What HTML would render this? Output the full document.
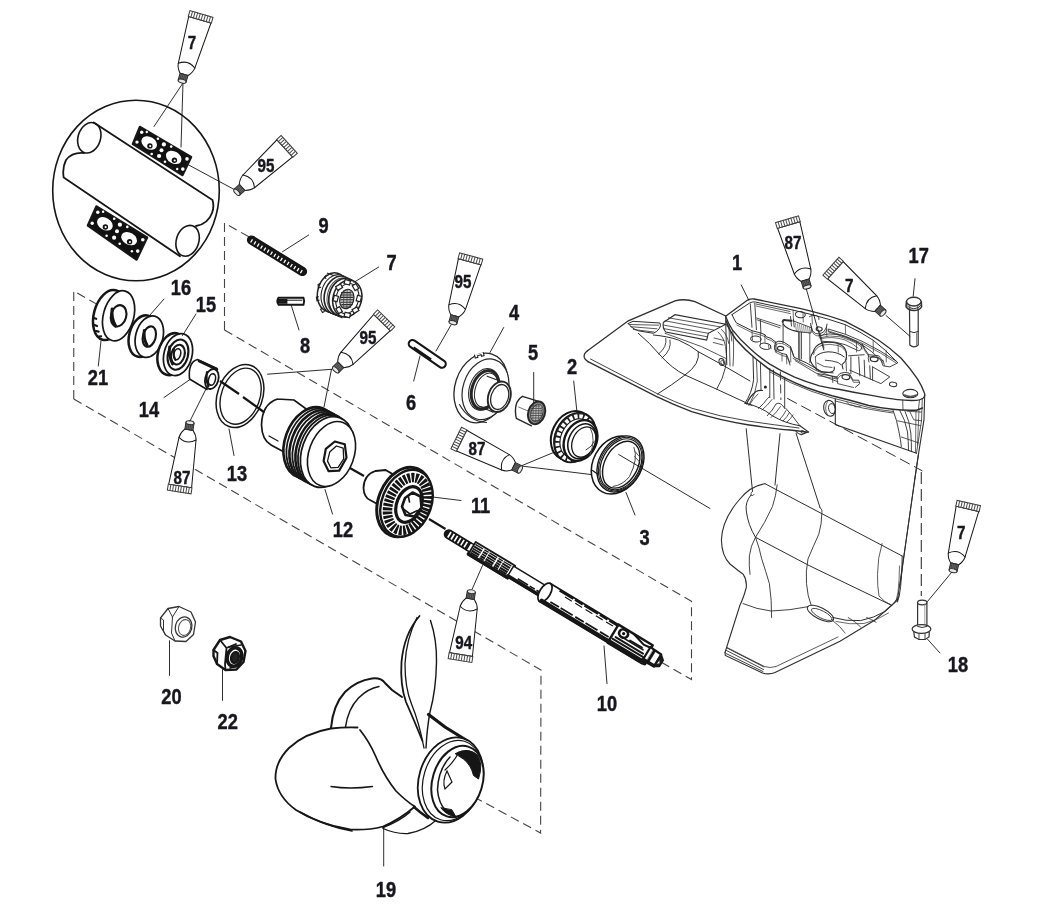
<!DOCTYPE html>
<html><head><meta charset="utf-8"><title>Gear housing exploded view</title>
<style>
html,body{margin:0;padding:0;background:#fff;}
body{width:1045px;height:908px;overflow:hidden;font-family:"Liberation Sans",sans-serif;}
svg{display:block;will-change:transform;}
svg text{font-family:"Liberation Sans",sans-serif;}
</style></head><body>
<svg width="1045" height="908" viewBox="0 0 1045 908" stroke-linecap="round">
<rect width="1045" height="908" fill="#fff"/>
<path d="M587.5 350.8 L628.3 320.8 L675 300.8 Q685 298.3 695 301.7 L725.8 316" stroke="#2e2e2e" stroke-width="1.3" fill="none" />
<path d="M587.5 350.8 Q583.3 354 584.3 357.5 Q585.2 360.3 588 361.7" stroke="#2e2e2e" stroke-width="1.3" fill="none" />
<path d="M588 361.7 L656.7 396.7 Q675 405.5 691.7 411.7 Q720 420.5 749 425 Q775 428.8 790 430 L808.3 432.2" stroke="#2e2e2e" stroke-width="1.3" fill="none" />
<path d="M590.5 359 L657.5 393.8 Q675 402.2 691.7 408.2 Q720 416.8 749 421.2 Q775 425 799 428" stroke="#2e2e2e" stroke-width="0.9" fill="none" />
<path d="M799.9 425.8 L808.3 431.9 L801.4 434.6 Q798 434 796 431.5" stroke="#2e2e2e" stroke-width="1.1" fill="none" />
<ellipse cx="803" cy="432" rx="2.4" ry="1.2" stroke="#2e2e2e" stroke-width="0.8" fill="none" transform="rotate(15 803 432)"/>
<path d="M628.3 323.5 L633 321.3 L660 323 Q661.3 326 659.2 328.7 Q657 332 653.3 333.3 L638.3 330.8 Q631 328 628.3 323.5 Z" stroke="#2e2e2e" stroke-width="1.0" fill="none" />
<path d="M629.2 324.5 L658.5 325.2 M630.8 326.7 L657 328.8 M633.3 329.5 L654 332" stroke="#2e2e2e" stroke-width="0.8" fill="none" />
<path d="M663.3 322.5 L675 314.7 L725.8 324.2 L708.3 333.3 L706.7 340 L665.8 332 Q662.3 328 663.3 322.5 Z" stroke="#2e2e2e" stroke-width="1.1" fill="none" />
<path d="M668.3 317.8 L720 326.9 M665 320.8 L713.5 330 M663.3 325 L708.3 333.3 M664.2 328.7 L707.5 336.8" stroke="#2e2e2e" stroke-width="0.8" fill="none" />
<path d="M713.3 342.5 L723 345 M718 332 Q724 337.5 725.3 345.5 M721.5 329.5 Q727.5 335 728.8 343.5 M725.8 324.2 Q731.5 330 731.8 341 M714 338 L724 340.5" stroke="#2e2e2e" stroke-width="0.8" fill="none" />
<path d="M638.3 333.3 Q650 343 660 355 Q672 368.5 685 375 L716.7 389.2 L752 405.5" stroke="#2e2e2e" stroke-width="1.0" fill="none" />
<path d="M665.8 338.3 Q667.5 347 658.5 354 M670 340 Q672 350 662 358" stroke="#2e2e2e" stroke-width="0.9" fill="none" />
<path d="M698.3 351.7 Q700.5 364 685 375 Q672 385 657.5 394" stroke="#2e2e2e" stroke-width="1.0" fill="none" />
<path d="M725.8 346.7 Q729.5 368 716.7 389.2" stroke="#2e2e2e" stroke-width="0.9" fill="none" />
<path d="M653.3 335 Q668 336.3 678.3 340 Q690 345 698.3 351.7 L721.7 364.5 L750 381" stroke="#2e2e2e" stroke-width="1.0" fill="none" />
<path d="M665 333.3 L701.7 346.7 L726 358.5" stroke="#2e2e2e" stroke-width="0.8" fill="none" />
<ellipse cx="721.7" cy="362" rx="2.6" ry="3.6" stroke="#2e2e2e" stroke-width="1.0" fill="none" transform="rotate(-15 721.7 362)"/>
<ellipse cx="722.3" cy="362.3" rx="1.4" ry="2.2" stroke="#2e2e2e" stroke-width="0.7" fill="none" transform="rotate(-15 722.3 362.3)"/>
<path d="M725.6 316.2 L726.8 364.7" stroke="#2e2e2e" stroke-width="1.0" fill="none" />
<path d="M729 322 L730 366 M732.5 328 Q734.5 345 733 366" stroke="#2e2e2e" stroke-width="0.8" fill="none" />
<path d="M753 357.3 L753.6 379.7 Q752 393 744.9 403.3" stroke="#2e2e2e" stroke-width="1.0" fill="none" />
<path d="M756.5 360.5 L757.3 381 Q756 394 749 405" stroke="#2e2e2e" stroke-width="0.8" fill="none" />
<path d="M760.4 362.2 L761 389.6 M769.8 368.5 L769.8 397.1 M773.5 370 L774 399" stroke="#2e2e2e" stroke-width="0.9" fill="none" />
<path d="M780.3 371.5 L780.9 400" stroke="#2e2e2e" stroke-width="0.9" fill="none" stroke-dasharray="9 4" stroke-linecap="butt"/>
<path d="M784.7 377.2 L784.7 408.3" stroke="#2e2e2e" stroke-width="0.9" fill="none" />
<path d="M746.5 404 Q750 396 756 391.5 Q759 390 762.5 390.5" stroke="#2e2e2e" stroke-width="1.2" fill="none" />
<path d="M749 405.5 Q753 398.5 758 394" stroke="#2e2e2e" stroke-width="0.8" fill="none" />
<path d="M758.5 408.5 Q764 403.5 767.5 398.5 Q769 396.5 769.8 397.1" stroke="#2e2e2e" stroke-width="0.9" fill="none" />
<path d="M762 410 Q768 405 772 399.5" stroke="#2e2e2e" stroke-width="0.8" fill="none" />
<path d="M767.3 415.7 Q773 410 776 404 Q780 401 784.7 408.3" stroke="#2e2e2e" stroke-width="0.9" fill="none" />
<path d="M771 417.5 Q777 412 780.5 406.5" stroke="#2e2e2e" stroke-width="0.8" fill="none" />
<path d="M779.7 419.5 Q784 415 786 410.5 M783 421 Q787.5 416.5 789.5 412.5 M787 422 Q791 418.5 793 415" stroke="#2e2e2e" stroke-width="0.8" fill="none" />
<path d="M744.9 403.3 Q760 406 772 415.5 Q784 423 799.9 425.8" stroke="#2e2e2e" stroke-width="1.0" fill="none" />
<path d="M786 408.5 Q792 415 799.9 425.8" stroke="#2e2e2e" stroke-width="0.9" fill="none" />
<circle cx="765.4" cy="387.1" r="1.5" fill="#222"/>
<path d="M725.6 316.2 L747.6 300.1 Q751 298.3 754.2 299 L799.8 308.4 L812 311.3 Q829 315.5 845.3 321.3 Q862 329.5 878.7 340.2 Q891 348.5 900.9 358 Q910 368 917.6 379.1 Q922 386 924.4 393 Q925.6 396.5 923 398.3 Q920 400.2 916.6 400.4 Q907 400.8 897.5 399.7 Q883 397.8 868.7 394.9 Q854 392.5 840 389.5 Q829 388 819.5 385.9 Q806 382 794.6 377.2 Q781 371 769.8 364.1 Q759 357 751 349.5 Q740 340 732.4 329.9 Q728 323 725.6 316.2 Z" stroke="#2e2e2e" stroke-width="1.3" fill="#fff" />
<path d="M726.3 321 Q729 330 736 339.5 Q744.5 349.5 756 359 Q763 364.5 769.8 369.7 Q777 374 784.7 377.8 Q795 383 807 387.7 Q819 392 832 395.8 Q841 398.2 850 400.2 L868.7 405.4 Q880 407.8 892.7 409.3 Q905 410.8 916.6 410.2 L922.5 408" stroke="#2e2e2e" stroke-width="1.5" fill="none" />
<path d="M770 372 Q790 383.5 812 391.5 Q832 398.5 852 403 L868.5 407.5 Q880 410 893 411.5" stroke="#2e2e2e" stroke-width="0.8" fill="none" />
<path d="M924.7 395.1 L924 419.6 L918.6 453.3 L914.8 478.6" stroke="#2e2e2e" stroke-width="1.1" fill="none" />
<path d="M922.3 399 L921.5 421 L916.5 453" stroke="#2e2e2e" stroke-width="0.8" fill="none" />
<path d="M902.7 400.2 L903 410 M919.5 400 L918.5 409" stroke="#2e2e2e" stroke-width="0.8" fill="none" />
<path d="M732 314.6 L749.8 302.9 Q752.5 301.5 755.3 302 L793.1 310.1 L812 314.7 Q829 319 845.3 324.7 Q860 331.5 873.1 340.2 Q886 350 896.4 361.3" stroke="#2e2e2e" stroke-width="1.0" fill="none" />
<path d="M756 304 L790 311.5 M756.5 318 L781 326 M757 319.8 L780 327.8" stroke="#2e2e2e" stroke-width="0.8" fill="none" />
<path d="M732 314.6 Q734 319.5 736.4 322.9 L752 330.7 L760.3 332.9 L764.8 334.6 L766.4 336.8 L770.9 338.4 L776 342.3 Q778 340.8 781 341.3 L784.2 342.4 L790.5 346.5 L793.1 354 L794.2 357.3 L806.4 362.9 L822 371.8 L833.1 372.9" stroke="#2e2e2e" stroke-width="1.0" fill="none" />
<path d="M775.5 342.5 Q773.5 346 775 350 L782 353.5 L786.5 354.5 L789 360.5 L790 365" stroke="#2e2e2e" stroke-width="0.9" fill="none" />
<path d="M782 353.5 L782 361 M786.5 354.5 L786.8 364" stroke="#2e2e2e" stroke-width="0.7" fill="none" />
<ellipse cx="755.9" cy="339" rx="5.3" ry="3" stroke="#2e2e2e" stroke-width="1.0" fill="none" transform="rotate(8 755.9 339)"/>
<ellipse cx="765.3" cy="346.2" rx="5.5" ry="3.1" stroke="#2e2e2e" stroke-width="1.0" fill="none" transform="rotate(8 765.3 346.2)"/>
<ellipse cx="780.6" cy="348.4" rx="3.2" ry="2" stroke="#2e2e2e" stroke-width="1.1" fill="none" transform="rotate(8 780.6 348.4)"/>
<path d="M768.5 345 L769 349 M770.5 345.3 L771 348.8" stroke="#2e2e2e" stroke-width="0.7" fill="none" />
<ellipse cx="800.3" cy="314.6" rx="5" ry="3.1" stroke="#2e2e2e" stroke-width="1.0" fill="none" transform="rotate(8 800.3 314.6)"/>
<path d="M809.5 316.5 Q812 314.6 816.5 315.5 Q820 317 819 319.5" stroke="#2e2e2e" stroke-width="0.9" fill="none" />
<ellipse cx="819.2" cy="329" rx="3" ry="2" stroke="#2e2e2e" stroke-width="1.2" fill="none" transform="rotate(8 819.2 329)"/>
<path d="M810.5 323.5 L812.5 331 Q815 334.5 820 334 Q825 332.5 826.5 327 L827 324" stroke="#2e2e2e" stroke-width="0.9" fill="none" />
<path d="M819.5 331.5 L824 348" stroke="#2e2e2e" stroke-width="0.8" fill="none" />
<path d="M750.3 304 L752 327.3 M754.8 303.4 L756.4 329.6 M760.3 319.6 L760.9 332.9" stroke="#2e2e2e" stroke-width="0.9" fill="none" />
<path d="M782.6 321.8 Q783.5 319 786.5 320.3 L791.5 320.8" stroke="#2e2e2e" stroke-width="2.0" fill="none" />
<path d="M783.1 322.5 L783.1 343 M798.7 331.8 L798.7 358.4" stroke="#2e2e2e" stroke-width="0.9" fill="none" />
<path d="M783 324 Q787 330 798 331.5" stroke="#2e2e2e" stroke-width="1.3" fill="none" />
<path d="M790.5 316.5 L791.5 326 M793.5 319.5 L794.2 327" stroke="#2e2e2e" stroke-width="0.9" fill="none" />
<path d="M793.5 321 L811.5 327.8 L811 333 L798.7 331.8" stroke="#2e2e2e" stroke-width="0.9" fill="none" />
<path d="M795.5 323.3 L796.3 330.5 M797.5 323.9 L798.3 331 M799.5 324.5 L800.3 331.5 M801.5 325.1 L802.3 332 M803.5 325.7 L804.3 332.3 M805.5 326.3 L806.3 332.6 M807.5 326.9 L808.3 332.9 M809.5 327.5 L810.1 333" stroke="#666" stroke-width="0.7" fill="none" />
<path d="M799.8 331.8 L799.8 360.7 M809.8 332.9 L809.8 362.9 M801.5 332 L801.5 359" stroke="#2e2e2e" stroke-width="0.8" fill="none" />
<path d="M793.1 358.4 L816.4 370.7 L837.9 378.4 M795.3 360.7 L817.6 374 L837.9 381.8" stroke="#2e2e2e" stroke-width="0.8" fill="none" />
<path d="M813.1 352.4 Q814.5 345.5 822 343 Q829 341.2 838 343.5 Q845 346 846.4 352.4 Q847 358 845.3 361.3 L842 364.7 L843 369" stroke="#2e2e2e" stroke-width="1.1" fill="none" />
<path d="M815.3 356.9 Q819 352.5 828 351.8 Q838 351.8 844.2 356.9" stroke="#2e2e2e" stroke-width="1.0" fill="none" />
<path d="M813.1 352.4 Q810 356 810.5 361 Q813 367.5 819.8 371 Q826 373.5 832.5 371.5 Q835 370 834.2 367" stroke="#2e2e2e" stroke-width="1.1" fill="none" />
<path d="M815.3 356.9 L816.4 370.2" stroke="#2e2e2e" stroke-width="0.8" fill="none" />
<path d="M825.3 360.2 Q832 360.5 838 362.5 L841 364.7" stroke="#2e2e2e" stroke-width="0.9" fill="none" />
<path d="M817 363 Q824 368 832 367.5" stroke="#2e2e2e" stroke-width="0.8" fill="none" />
<path d="M818.7 335.8 Q829 332.5 839.8 334.7 Q850 338 856.4 341.3 Q861.5 344 862 346.9 Q861.5 350.5 858.7 350.8 Q852 348 845.3 344.7 Q835 341 823.1 341.3" stroke="#2e2e2e" stroke-width="0.9" fill="none" />
<path d="M821.5 338.5 Q833 336 845 340 Q853 343.5 858 348" stroke="#2e2e2e" stroke-width="0.7" fill="none" />
<path d="M828.7 329.1 Q846 333.5 862 341.3 Q881 350.5 896.4 361.3 Q897.8 362 897.6 363 L889.8 366.9 L883.1 365.8 L880.9 360.2 Q872 351 862 344.7 Q846 336.5 828.7 331.9 Z" stroke="#2e2e2e" stroke-width="0.9" fill="none" />
<path d="M883 360 L884.5 365.5" stroke="#2e2e2e" stroke-width="0.7" fill="none" />
<ellipse cx="874.2" cy="359.1" rx="3.9" ry="2.4" stroke="#2e2e2e" stroke-width="1.2" fill="none" transform="rotate(8 874.2 359.1)"/>
<path d="M862 343.5 Q864 349 868.7 354.7 Q867.5 358 869 362 M868.7 354.7 L878.7 355.8 L883.1 361.3" stroke="#2e2e2e" stroke-width="0.9" fill="none" />
<path d="M848.7 355.8 L864.2 354.7" stroke="#2e2e2e" stroke-width="0.9" fill="none" />
<path d="M850.9 356.9 L850.9 373.6 M858.7 356.9 L859.8 375.8 M864.2 360.2 L864.8 376.9 M869.8 365.8 L870.3 379.1 M872.6 366.9 L872.6 380.2" stroke="#2e2e2e" stroke-width="0.9" fill="none" />
<path d="M846 361.5 L846.5 371" stroke="#2e2e2e" stroke-width="0.8" fill="none" />
<path d="M872.6 366.9 L889.8 376.9 L880.9 383.6 L849.8 370.2" stroke="#2e2e2e" stroke-width="0.9" fill="none" />
<ellipse cx="845.9" cy="377.1" rx="3.9" ry="2.4" stroke="#2e2e2e" stroke-width="1.1" fill="none" transform="rotate(8 845.9 377.1)"/>
<path d="M817.6 373.6 L837 376.9 L839.8 373.6 Q844 371.5 849 373 L853.1 380.2 L858.7 380.2 L859.8 383.6 L855.3 387.4" stroke="#2e2e2e" stroke-width="0.9" fill="none" />
<path d="M837 376.9 L837.6 383.6 L853.5 387.5 M832.5 376.5 L832.8 382.5" stroke="#2e2e2e" stroke-width="0.8" fill="none" />
<ellipse cx="893.1" cy="384.4" rx="3.7" ry="2.2" stroke="#2e2e2e" stroke-width="1.0" fill="none" transform="rotate(8 893.1 384.4)"/>
<ellipse cx="910.3" cy="393.6" rx="7.5" ry="4.2" stroke="#2e2e2e" stroke-width="1.1" fill="none"/>
<path d="M904.5 395 Q910.5 398 916.5 395" stroke="#555" stroke-width="1.4" fill="none" />
<g transform="translate(0.4 2.1)">
<path d="M736.4 322.9 L752 330.7 L760.3 332.9 L764.8 334.6 L766.4 336.8 L770.9 338.4 L776 342.3 Q778 340.8 781 341.3 L784.2 342.4 L790.5 346.5 L793.1 354" stroke="#2e2e2e" stroke-width="0.7" fill="none" />
<path d="M813.1 352.4 Q814.5 345.5 822 343 Q829 341.2 838 343.5 Q845 346 846.4 352.4" stroke="#2e2e2e" stroke-width="0.7" fill="none" />
<path d="M818.7 335.8 Q829 332.5 839.8 334.7 Q850 338 856.4 341.3 Q861.5 344 862 346.9" stroke="#2e2e2e" stroke-width="0.7" fill="none" />
<path d="M828.7 329.1 Q846 333.5 862 341.3 Q881 350.5 896.4 361.3" stroke="#2e2e2e" stroke-width="0.7" fill="none" />
<path d="M810.5 323.5 L812.5 331 Q815 334.5 820 334 Q825 332.5 826.5 327" stroke="#2e2e2e" stroke-width="0.7" fill="none" />
<path d="M862 343.5 Q864 349 868.7 354.7 L878.7 355.8 L883.1 361.3" stroke="#2e2e2e" stroke-width="0.7" fill="none" />
<path d="M817.6 373.6 L837 376.9 L839.8 373.6 Q844 371.5 849 373 L853.1 380.2 L858.7 380.2" stroke="#2e2e2e" stroke-width="0.7" fill="none" />
<path d="M775.5 342.5 Q773.5 346 775 350 L782 353.5 L786.5 354.5 L789 360.5" stroke="#2e2e2e" stroke-width="0.7" fill="none" />
<path d="M756 304 L790 311.5" stroke="#2e2e2e" stroke-width="0.7" fill="none" />
</g>
<path d="M752 330.7 L752.5 340 M760.3 332.9 L760.6 344 M764.8 334.6 L765 342 M776 342.3 L776.3 352 M790.5 346.5 L790.8 362" stroke="#2e2e2e" stroke-width="0.7" fill="none" />
<path d="M838 343.5 L838.3 352 M846.4 352.4 L846.6 360 M856.4 341.3 L856.6 352 M826.5 327 L826.8 336" stroke="#2e2e2e" stroke-width="0.7" fill="none" />
<path d="M793.1 310.1 L793.5 321 M812 314.7 L812.3 324 M803 312.5 L803.3 322" stroke="#2e2e2e" stroke-width="0.7" fill="none" />
<path d="M873.1 340.2 L873.4 352 M886 350 L886.3 362 M845.3 324.7 L845.6 334" stroke="#2e2e2e" stroke-width="0.7" fill="none" />
<path d="M835.3 399 L835.3 424.5 L916.6 453.3" stroke="#2e2e2e" stroke-width="1.1" fill="none" />
<path d="M835.3 401 L862.7 408 Q882 411.5 893 413" stroke="#2e2e2e" stroke-width="0.8" fill="none" />
<path d="M846.5 402 Q849 406 853.5 405.5 Q856 408 861 406" stroke="#2e2e2e" stroke-width="0.7" fill="none" />
<ellipse cx="829.5" cy="408.3" rx="5.8" ry="8" stroke="#2e2e2e" stroke-width="1.1" fill="none" transform="rotate(-12 829.5 408.3)"/>
<ellipse cx="832" cy="408.6" rx="3.4" ry="5" stroke="#2e2e2e" stroke-width="0.9" fill="none" transform="rotate(-12 832 408.6)"/>
<path d="M827.5 401.5 Q823.5 408 827.5 415" stroke="#2e2e2e" stroke-width="0.7" fill="none" />
<path d="M787.2 398.3 L922.4 470.9" stroke="#2e2e2e" stroke-width="1.0" fill="none" stroke-dasharray="11 5" stroke-linecap="butt"/>
<path d="M892.7 409.3 Q897 420 899 432 Q900.8 440 901.3 446.6 M899.4 409.5 Q905.5 420 907.5 432 Q908.5 442 908.5 450.5 M905 411.2 Q909.5 421 910.8 433 Q911.6 443 911.4 451.4" stroke="#2e2e2e" stroke-width="0.9" fill="none" />
<path d="M897.5 420.8 L920.5 425.6 M901.3 437 L918.5 442.8" stroke="#2e2e2e" stroke-width="0.8" fill="none" />
<path d="M907 411.2 L921.4 412.1 M910 412.1 L913.8 419.8 L921.4 420.8" stroke="#2e2e2e" stroke-width="0.8" fill="none" />
<path d="M916 410.5 L915.5 452.5 M919 410 L917.5 445" stroke="#2e2e2e" stroke-width="0.7" fill="none" />
<path d="M746.2 428.7 L752.5 491.2 M780 433.7 L775 485 M796.1 433.4 L820 507.5" stroke="#2e2e2e" stroke-width="1.0" fill="none" />
<path d="M918.6 453.3 L897.5 600 M914.8 478.6 L900 585" stroke="#2e2e2e" stroke-width="1.0" fill="none" />
<path d="M765 483.7 L902.2 556" stroke="#2e2e2e" stroke-width="1.0" fill="none" />
<path d="M765 483.7 Q750 486 739 500 Q722 520 721.4 540 Q721.8 556 730 564 Q738 570.5 743.2 574.3 Q747 580 746.3 587.5 Q743.5 598 740 605 L725 652.5" stroke="#2e2e2e" stroke-width="1.1" fill="none" />
<path d="M752.5 491.2 Q750.3 493.3 751 495.3 Q753 496.5 754.2 494.3" stroke="#2e2e2e" stroke-width="0.8" fill="none" />
<path d="M751 495 Q745 502 746.3 511 Q748 525 755.5 537.3" stroke="#2e2e2e" stroke-width="1.0" fill="none" />
<path d="M755.5 537.3 L810 566 L891 605" stroke="#2e2e2e" stroke-width="1.0" fill="none" />
<path d="M755.5 537.3 Q759.5 548 761.7 558.9 Q766 572 769.4 583.6 Q771.8 600 771.6 617.5" stroke="#2e2e2e" stroke-width="0.9" fill="none" />
<path d="M777.2 484.8 Q776 496 772.5 506.4 Q765 523 755.5 537.3 Q750.5 546 749.4 555.8 Q748.8 565 750 574.3" stroke="#2e2e2e" stroke-width="0.9" fill="none" />
<path d="M820 507.5 Q823 510 821.9 512.6 Q821.8 524 818.8 534.2 Q813 547 808 558.9 Q805.5 571 806.5 583.6 Q807.5 596 811.1 605.2" stroke="#2e2e2e" stroke-width="0.9" fill="none" />
<path d="M882.1 543.5 Q877.5 558 877.5 574.3 Q877.3 586 879 596 Q884 602 891.4 605.2" stroke="#2e2e2e" stroke-width="0.8" fill="none" />
<path d="M902.2 556 Q902.3 572 900.6 586.7 Q899.8 596 897.5 602" stroke="#2e2e2e" stroke-width="1.0" fill="none" />
<path d="M899.5 566 Q899.4 580 898 592 L896.3 600" stroke="#2e2e2e" stroke-width="0.7" fill="none" />
<path d="M743 603.6 Q757 609.5 771 611 Q790 610.5 808 606.7" stroke="#2e2e2e" stroke-width="0.9" fill="none" />
<path d="M832.7 617.5 Q846 621.5 860.5 620.6 Q874 618 885.2 611.4 Q894 605 899 596" stroke="#2e2e2e" stroke-width="1.0" fill="none" />
<path d="M836 621.5 Q850 625 864 623.5 Q878 620 888.5 613" stroke="#2e2e2e" stroke-width="0.7" fill="none" />
<ellipse cx="820.5" cy="613.5" rx="14.5" ry="5.6" stroke="#2e2e2e" stroke-width="1.0" fill="none" transform="rotate(27 820.5 613.5)"/>
<ellipse cx="821.8" cy="614.5" rx="11.5" ry="3.6" stroke="#2e2e2e" stroke-width="0.8" fill="none" transform="rotate(27 821.8 614.5)"/>
<path d="M832.7 620.6 Q840 626 845.1 633 M848.2 617.5 Q856 622 860.5 626.8 M866.7 617.5 Q872 619.5 876 622.2" stroke="#2e2e2e" stroke-width="0.8" fill="none" />
<path d="M725 652.5 L725.3 655.5 L762.5 673 Q769 675 775 672.5 L840 641.2 L875 620 L897.5 600" stroke="#2e2e2e" stroke-width="1.1" fill="none" />
<path d="M726.5 650.5 L763.5 669.5 M726 653.5 L763 671.5 M727 648 L764 667" stroke="#2e2e2e" stroke-width="0.9" fill="none" />
<path d="M727 647.5 L764.5 666.5 Q770 668.5 776 666.5 L838 637" stroke="#2e2e2e" stroke-width="0.8" fill="none" />
<path d="M73.75 399 L73.75 291 L100 306" stroke="#444" stroke-width="1.1" fill="none" stroke-dasharray="9 5" stroke-linecap="butt"/>
<path d="M73.75 399 L541 670 L540.6 833 L464 791.5" stroke="#444" stroke-width="1.1" fill="none" stroke-dasharray="9 5" stroke-linecap="butt"/>
<path d="M224.5 330 L224.5 223 L250 237.5" stroke="#444" stroke-width="1.1" fill="none" stroke-dasharray="9 5" stroke-linecap="butt"/>
<path d="M224.5 330 L691.5 601.3 L691.5 679.5 L661 662" stroke="#444" stroke-width="1.1" fill="none" stroke-dasharray="9 5" stroke-linecap="butt"/>
<path d="M921.3 472 L921.3 596" stroke="#333" stroke-width="1.1" fill="none" stroke-dasharray="12 5" stroke-linecap="butt"/>
<ellipse cx="136" cy="190.5" rx="83.3" ry="90.3" stroke="#161616" stroke-width="1.6" fill="none" />
<path d="M93.7 122.5 L212.5 200 Q214.5 207 212 213 Q208 224 196 226 M180 256.3 L63.7 177.5 Q62 168 66 160 Q72 152 84 153" stroke="#161616" stroke-width="1.8" fill="none" />
<ellipse cx="89.3" cy="137.8" rx="11.2" ry="15.6" stroke="#161616" stroke-width="1.6" fill="none" transform="rotate(18 89.3 137.8)" />
<ellipse cx="187.6" cy="240.8" rx="11.2" ry="15.8" stroke="#161616" stroke-width="1.6" fill="none" transform="rotate(18 187.6 240.8)" />
<path d="M140 127 L191 157 L182.4 175 L133 144 Z" stroke="#161616" stroke-width="2.6" fill="#111" stroke-linejoin="round"/>
<ellipse cx="149.2" cy="143.0" rx="8.4" ry="6.0" stroke="#161616" stroke-width="0" fill="#fff" transform="rotate(31 149.2 143.0)" />
<circle cx="149.9" cy="145.9" r="2.7" fill="#111"/>
<circle cx="150.2" cy="146.1" r="1.1" fill="#fff"/>
<ellipse cx="173.7" cy="157.4" rx="8.4" ry="6.0" stroke="#161616" stroke-width="0" fill="#fff" transform="rotate(31 173.7 157.4)" />
<circle cx="174.4" cy="160.3" r="2.7" fill="#111"/>
<circle cx="174.7" cy="160.5" r="1.1" fill="#fff"/>
<circle cx="141.7" cy="132.2" r="1.7" fill="#fff"/>
<circle cx="137.0" cy="142.1" r="1.7" fill="#fff"/>
<circle cx="163.9" cy="144.4" r="2.1" fill="#fff"/>
<circle cx="161.5" cy="150.2" r="2.0" fill="#fff"/>
<circle cx="159.1" cy="156.0" r="2.1" fill="#fff"/>
<circle cx="187.0" cy="158.9" r="1.8" fill="#fff"/>
<circle cx="182.8" cy="169.1" r="1.8" fill="#fff"/>
<circle cx="157.9" cy="138.8" r="1.3" fill="#fff"/>
<circle cx="171.2" cy="146.6" r="1.3" fill="#fff"/>
<circle cx="151.7" cy="154.0" r="1.3" fill="#fff"/>
<circle cx="165.0" cy="161.8" r="1.3" fill="#fff"/>
<circle cx="146.8" cy="132.0" r="1.2" fill="#fff"/>
<circle cx="177.2" cy="169.0" r="1.2" fill="#fff"/>
<path d="M96.5 206.5 L147 237.5 L136.5 259.5 L88 225.5 Z" stroke="#161616" stroke-width="2.6" fill="#111" stroke-linejoin="round"/>
<ellipse cx="104.9" cy="223.8" rx="8.4" ry="6.0" stroke="#161616" stroke-width="0" fill="#fff" transform="rotate(31 104.9 223.8)" />
<circle cx="105.4" cy="227.0" r="2.7" fill="#111"/>
<circle cx="105.6" cy="227.1" r="1.1" fill="#fff"/>
<ellipse cx="129.1" cy="238.6" rx="8.4" ry="6.0" stroke="#161616" stroke-width="0" fill="#fff" transform="rotate(31 129.1 238.6)" />
<circle cx="129.6" cy="241.8" r="2.7" fill="#111"/>
<circle cx="129.9" cy="242.0" r="1.1" fill="#fff"/>
<circle cx="97.8" cy="212.2" r="1.7" fill="#fff"/>
<circle cx="92.2" cy="223.2" r="1.7" fill="#fff"/>
<circle cx="119.9" cy="224.7" r="2.1" fill="#fff"/>
<circle cx="117.0" cy="231.2" r="2.0" fill="#fff"/>
<circle cx="114.1" cy="237.7" r="2.1" fill="#fff"/>
<circle cx="142.8" cy="239.8" r="1.8" fill="#fff"/>
<circle cx="137.7" cy="251.1" r="1.8" fill="#fff"/>
<circle cx="114.2" cy="218.8" r="1.3" fill="#fff"/>
<circle cx="127.3" cy="226.9" r="1.3" fill="#fff"/>
<circle cx="106.6" cy="235.7" r="1.3" fill="#fff"/>
<circle cx="119.7" cy="243.8" r="1.3" fill="#fff"/>
<circle cx="103.1" cy="211.8" r="1.2" fill="#fff"/>
<circle cx="131.9" cy="251.2" r="1.2" fill="#fff"/>
<line x1="183" y1="83" x2="154" y2="126.5" stroke="#161616" stroke-width="0.9" />
<line x1="183" y1="83" x2="181" y2="147" stroke="#161616" stroke-width="0.9" />
<line x1="237" y1="191" x2="185" y2="163" stroke="#161616" stroke-width="0.9" />
<ellipse cx="109.1" cy="315.04" rx="15.2" ry="25.6" stroke="#161616" stroke-width="2.5" fill="none" transform="rotate(15 109.1 315.04)" />
<ellipse cx="118.6" cy="315.8" rx="15.2" ry="25.6" stroke="#161616" stroke-width="1.7" fill="#fff" transform="rotate(15 118.6 315.8)" />
<ellipse cx="118.6" cy="315.8" rx="7.6" ry="10.8" stroke="#161616" stroke-width="2.1" fill="none" transform="rotate(15 118.6 315.8)" />
<path d="M112.2 309 Q110.8 318 115.5 326" stroke="#161616" stroke-width="3.2" fill="none" />
<path d="M94.5 325 l2.5 1 M96 331 l2.6 0.6 M98.5 336.5 l2.6 -0.2 M93.8 318 l2.4 0.8" stroke="#161616" stroke-width="2.2" fill="none" />
<ellipse cx="142.8" cy="336.08000000000004" rx="13.6" ry="21.2" stroke="#161616" stroke-width="2.5" fill="none" transform="rotate(15 142.8 336.08000000000004)" />
<ellipse cx="149.3" cy="336.6" rx="13.6" ry="21.2" stroke="#161616" stroke-width="1.7" fill="#fff" transform="rotate(15 149.3 336.6)" />
<ellipse cx="149.3" cy="336.6" rx="6.4" ry="10.4" stroke="#161616" stroke-width="2.1" fill="none" transform="rotate(15 149.3 336.6)" />
<path d="M144.3 330.5 Q143.2 338.5 147 345" stroke="#161616" stroke-width="3.0" fill="none" />
<ellipse cx="172" cy="354.12" rx="14" ry="21.4" stroke="#161616" stroke-width="2.5" fill="none" transform="rotate(15 172 354.12)" />
<ellipse cx="178" cy="354.6" rx="14" ry="21.4" stroke="#161616" stroke-width="1.7" fill="#fff" transform="rotate(15 178 354.6)" />
<ellipse cx="178" cy="354.6" rx="10" ry="15.4" stroke="#161616" stroke-width="2.1" fill="none" transform="rotate(15 178 354.6)" />
<ellipse cx="178" cy="354.6" rx="6.6" ry="10" stroke="#161616" stroke-width="2.0" fill="none" transform="rotate(15 178 354.6)" />
<ellipse cx="177.2" cy="354.2" rx="3.4" ry="5.6" stroke="#161616" stroke-width="1.6" fill="none" transform="rotate(15 177.2 354.2)" />
<path d="M169.6 347 Q168.4 356 172.6 364" stroke="#161616" stroke-width="2.8" fill="none" />
<path d="M174 349 Q173 355 175.4 360" stroke="#161616" stroke-width="1.8" fill="none" />
<path d="M197.5 359.5 L217 368.5 M189.5 379 L207 389.5 M197.5 359.5 Q188 362 189.5 379" stroke="#161616" stroke-width="1.6" fill="none" />
<path d="M199 361 L217 369.5" stroke="#161616" stroke-width="2.6" fill="none" />
<ellipse cx="211.8" cy="379" rx="6.6" ry="10.2" stroke="#161616" stroke-width="1.8" fill="#fff" transform="rotate(15 211.8 379)" />
<ellipse cx="212" cy="379.5" rx="3.4" ry="5.8" stroke="#161616" stroke-width="1.6" fill="none" transform="rotate(15 212 379.5)" />
<path d="M207 372 Q205.5 380 208.5 386" stroke="#161616" stroke-width="2.2" fill="none" />
<ellipse cx="240" cy="396" rx="22.5" ry="32.5" stroke="#161616" stroke-width="1.5" fill="none" transform="rotate(20 240 396)" />
<ellipse cx="240.6" cy="396.2" rx="19.2" ry="29" stroke="#161616" stroke-width="1.4" fill="none" transform="rotate(20 240.6 396.2)" />
<line x1="220" y1="381" x2="239" y2="394" stroke="#161616" stroke-width="2.2" stroke-linecap="butt"/>
<line x1="243" y1="397" x2="264.5" y2="412.5" stroke="#161616" stroke-width="2.2" stroke-linecap="butt"/>
<line x1="349" y1="467.5" x2="364" y2="476" stroke="#161616" stroke-width="2.2" stroke-linecap="butt"/>
<line x1="429" y1="519" x2="445.5" y2="529" stroke="#161616" stroke-width="2.2" stroke-linecap="butt"/>
<line x1="251.5" y1="240" x2="302.5" y2="271.5" stroke="#151515" stroke-width="9.2" stroke-linecap="round"/>
<line x1="251" y1="240.6" x2="303" y2="272.7" stroke="#fff" stroke-width="3.6" stroke-dasharray="1.3 2.6" stroke-linecap="butt"/>
<path d="M278.5 297.8 L303.5 297.8 Q305 301.3 303.5 304.8 L278.5 304.8 Q276 301.3 278.5 297.8 Z" stroke="#161616" stroke-width="1.9" fill="#fff" />
<path d="M278.5 300 L286.5 300 L286.5 302.8 L278.5 302.8 Z" stroke="#161616" stroke-width="1.8" fill="#222" />
<line x1="287" y1="300.2" x2="302" y2="300.2" stroke="#161616" stroke-width="1.0" />
<line x1="412.5" y1="343.8" x2="442" y2="364" stroke="#151515" stroke-width="9.6" stroke-linecap="round"/>
<line x1="412.5" y1="343.8" x2="442" y2="364" stroke="#fff" stroke-width="5.4" stroke-linecap="round"/>
<line x1="413.5" y1="347.6" x2="431" y2="359.6" stroke="#151515" stroke-width="2.6" stroke-linecap="butt"/>
<ellipse cx="332.5" cy="292.3" rx="14.8" ry="19.8" stroke="#222" stroke-width="1.5" fill="#fff" transform="rotate(15 332.5 292.3)" />
<path d="M327.5 273.2 L343 279 M328 311.8 L342 317.8" stroke="#222" stroke-width="1.2" fill="none" />
<ellipse cx="336" cy="294" rx="14.6" ry="19.6" stroke="#222" stroke-width="1.1" fill="#fff" transform="rotate(15 336 294)" />
<ellipse cx="339" cy="295.3" rx="14.5" ry="19.5" stroke="#222" stroke-width="1.6" fill="#fff" transform="rotate(15 339 295.3)" />
<ellipse cx="341" cy="296.2" rx="13.6" ry="18.6" stroke="#555" stroke-width="1.0" fill="#fff" transform="rotate(15 341 296.2)" />
<ellipse cx="343.5" cy="297.2" rx="14.4" ry="19.2" stroke="#222" stroke-width="1.7" fill="#fff" transform="rotate(15 343.5 297.2)" />
<ellipse cx="347.3" cy="298.6" rx="14.3" ry="18.8" stroke="#222" stroke-width="1.5" fill="#fff" transform="rotate(15 347.3 298.6)" />
<ellipse cx="347.3" cy="298.6" rx="11.3" ry="15.3" stroke="#222" stroke-width="1.1" fill="none" transform="rotate(15 347.3 298.6)" />
<rect x="356.1" y="296.5" width="5.6" height="4.2" fill="#fff" stroke="#222" stroke-width="1.2" transform="rotate(105 358.9 298.6)"/>
<rect x="352.7" y="308.0" width="5.6" height="4.2" fill="#fff" stroke="#222" stroke-width="1.2" transform="rotate(150 355.5 310.1)"/>
<rect x="344.5" y="312.8" width="5.6" height="4.2" fill="#fff" stroke="#222" stroke-width="1.2" transform="rotate(195 347.3 314.9)"/>
<rect x="336.3" y="308.0" width="5.6" height="4.2" fill="#fff" stroke="#222" stroke-width="1.2" transform="rotate(240 339.1 310.1)"/>
<rect x="332.9" y="296.5" width="5.6" height="4.2" fill="#fff" stroke="#222" stroke-width="1.2" transform="rotate(285 335.7 298.6)"/>
<rect x="336.3" y="285.0" width="5.6" height="4.2" fill="#fff" stroke="#222" stroke-width="1.2" transform="rotate(330 339.1 287.1)"/>
<rect x="344.5" y="280.2" width="5.6" height="4.2" fill="#fff" stroke="#222" stroke-width="1.2" transform="rotate(375 347.3 282.3)"/>
<rect x="352.7" y="285.0" width="5.6" height="4.2" fill="#fff" stroke="#222" stroke-width="1.2" transform="rotate(420 355.5 287.1)"/>
<ellipse cx="346.8" cy="299" rx="6.9" ry="9.8" stroke="#222" stroke-width="1.2" fill="#cfcfcf" transform="rotate(15 346.8 299)" />
<path d="M341.5 292.6h9.6 M340.8 295h11.6 M340.6 297.4h12.4 M340.7 299.8h12.4 M341 302.2h11.8 M341.8 304.6h10.4 M343 307h7.8" stroke="#2a2a2a" stroke-width="1.1" fill="none" />
<path d="M344 290.5 L343.3 308 M347.2 289.5 L346.8 309 M350.2 290.5 L350 307.5" stroke="#444" stroke-width="0.8" fill="none" />
<path d="M320.3 283.6 l-2.2 1 l0.4 3.4 l2.2 -0.8 M318.2 296.6 l-1.8 0.6 l0.6 3.6 l2 -0.6 M322.3 308.3 l-1.7 1 l1.9 3.2 l1.8 -1 M326.6 275.2 l-2 1.6 l1.2 1.6" stroke="#222" stroke-width="1.2" fill="none" />
<path d="M277.5 399 L294 400 L309 411 M277.5 399 Q262 404 261.5 425 Q262 440 271 445 L285 452.5" stroke="#161616" stroke-width="1.7" fill="none" />
<path d="M269 436 l9 5" stroke="#161616" stroke-width="1.2" fill="none" />
<ellipse cx="310" cy="442.5" rx="25" ry="36.5" stroke="#161616" stroke-width="2.6" fill="#fff" transform="rotate(20 310 442.5)" />
<ellipse cx="313" cy="444" rx="25" ry="36.5" stroke="#161616" stroke-width="1.8" fill="#fff" transform="rotate(20 313 444)" />
<ellipse cx="316" cy="445.7" rx="25" ry="36.5" stroke="#161616" stroke-width="2.6" fill="#fff" transform="rotate(20 316 445.7)" />
<ellipse cx="319" cy="447.4" rx="25" ry="36.5" stroke="#161616" stroke-width="1.8" fill="#fff" transform="rotate(20 319 447.4)" />
<ellipse cx="322" cy="449.1" rx="25" ry="36.5" stroke="#161616" stroke-width="2.6" fill="#fff" transform="rotate(20 322 449.1)" />
<ellipse cx="324.6" cy="450.6" rx="25" ry="36.5" stroke="#161616" stroke-width="1.8" fill="#fff" transform="rotate(20 324.6 450.6)" />
<ellipse cx="327" cy="452" rx="25" ry="36.5" stroke="#161616" stroke-width="1.8" fill="#fff" transform="rotate(20 327 452)" />
<ellipse cx="331.5" cy="454" rx="22.5" ry="33.5" stroke="#161616" stroke-width="1.6" fill="#fff" transform="rotate(20 331.5 454)" />
<path d="M325.8 448.8 L334.8 441.5 L344.8 444.3 L346.5 457.7 L339.2 470.6 L328.6 471.2 L323.6 461.1 Z" stroke="#161616" stroke-width="2.2" fill="none" stroke-linejoin="round"/>
<path d="M329.7 452.1 L336.4 446.0 L343.2 448.2 L343.7 458.9 L338.1 467.3 L330.8 467.8 L327.5 461.1 Z" stroke="#161616" stroke-width="1.3" fill="none" stroke-linejoin="round"/>
<line x1="331.5" y1="369.3" x2="267.5" y2="374.2" stroke="#161616" stroke-width="0.9" />
<line x1="331.5" y1="369.3" x2="324" y2="407" stroke="#161616" stroke-width="0.9" />
<path d="M375.5 471 L385.5 470 L396 476 M375.5 471 Q364 474.5 363.5 488 Q364 497.5 370 500 L381 506" stroke="#161616" stroke-width="1.8" fill="none" />
<ellipse cx="404" cy="502" rx="25.5" ry="36" stroke="#161616" stroke-width="3.0" fill="#fff" transform="rotate(22 404 502)" />
<ellipse cx="406.5" cy="503.2" rx="24.6" ry="34.6" stroke="#161616" stroke-width="2.4" fill="#fff" transform="rotate(22 406.5 503.2)" />
<ellipse cx="407.5" cy="504" rx="18.5" ry="27.5" stroke="#141414" stroke-width="9.5" fill="none" transform="rotate(22 407.5 504)" stroke-dasharray="2.7 1.25" stroke-linecap="butt"/>
<ellipse cx="409" cy="504.5" rx="12.2" ry="18.6" stroke="#141414" stroke-width="3.2" fill="#fff" transform="rotate(22 409 504.5)" />
<path d="M405 498 L412.5 492.5 L420.5 496.5 L421.5 507.5 L414.5 516.5 L405.5 515 L402 506.5 Z" stroke="#161616" stroke-width="2.6" fill="#fff" stroke-linejoin="round"/>
<path d="M404 509.5 L410 514 L417.5 510.5 M408.5 497 L409.5 502" stroke="#161616" stroke-width="1.6" fill="none" />
<line x1="448.7" y1="534.3" x2="468.4" y2="546.2" stroke="#151515" stroke-width="10" stroke-linecap="round"/>
<line x1="448.7" y1="534.3" x2="468.4" y2="546.2" stroke="#fff" stroke-width="6.4" stroke-dasharray="1.7 2.1" stroke-linecap="butt"/>
<path d="M470.6 542.6 L475.7 545.7 L471.3 553.0 L466.2 549.9 Z" stroke="#161616" stroke-width="1.5" fill="#fff" stroke-linejoin="round"/>
<path d="M475.7 541.9 L515.1 565.7 L507.3 578.5 L467.9 554.7 Z" stroke="#161616" stroke-width="1.8" fill="#fff" stroke-linejoin="round"/>
<line x1="475.4" y1="544.4" x2="513.0" y2="567.1" stroke="#161616" stroke-width="1.3" stroke-dasharray="9 1.5 5 1" stroke-linecap="butt"/>
<line x1="474.1" y1="546.4" x2="511.8" y2="569.2" stroke="#161616" stroke-width="2.0" stroke-dasharray="9 1.5 5 1" stroke-linecap="butt"/>
<line x1="472.9" y1="548.5" x2="510.5" y2="571.2" stroke="#161616" stroke-width="1.6" stroke-dasharray="9 1.5 5 1" stroke-linecap="butt"/>
<line x1="471.6" y1="550.5" x2="509.3" y2="573.3" stroke="#161616" stroke-width="2.2" stroke-dasharray="9 1.5 5 1" stroke-linecap="butt"/>
<line x1="470.5" y1="552.4" x2="508.2" y2="575.2" stroke="#161616" stroke-width="1.8" stroke-dasharray="9 1.5 5 1" stroke-linecap="butt"/>
<line x1="468.4" y1="553.9" x2="507.8" y2="577.7" stroke="#161616" stroke-width="3.4" />
<path d="M513.6 566.2 L549.5 587.9 L543.1 598.6 L507.1 576.9 Z" stroke="#161616" stroke-width="1.5" fill="#fff" stroke-linejoin="round"/>
<line x1="507.8" y1="575.8" x2="542.8" y2="597.1" stroke="#161616" stroke-width="3.4" />
<line x1="517.7" y1="578.8" x2="541.6" y2="593.3" stroke="#161616" stroke-width="1.6" stroke-dasharray="12 2 6 2" stroke-linecap="butt"/>
<path d="M550.0 583.3 L620.2 625.7 L609.3 643.6 L539.1 601.2 Z" stroke="#161616" stroke-width="1.7" fill="#fff" stroke-linejoin="round"/>
<ellipse cx="545.0" cy="592.5" rx="5.4" ry="10.5" stroke="#161616" stroke-width="1.7" fill="#fff" transform="rotate(31 545.0 592.5)" />
<line x1="541.7" y1="600.8" x2="610.2" y2="642.2" stroke="#161616" stroke-width="4.2" />
<line x1="550.4" y1="601.9" x2="610.4" y2="638.1" stroke="#161616" stroke-width="1.8" stroke-dasharray="10 2 14 3" stroke-linecap="butt"/>
<line x1="559.7" y1="590.4" x2="619.6" y2="626.6" stroke="#161616" stroke-width="2.6" stroke-dasharray="16 2 9 2" stroke-linecap="butt"/>
<line x1="565.0" y1="597.1" x2="614.6" y2="627.1" stroke="#161616" stroke-width="1.2" stroke-dasharray="8 4" stroke-linecap="butt"/>
<path d="M618.5 624.6 L652.7 645.3 L641.8 663.3 L607.6 642.6 Z" stroke="#161616" stroke-width="2.4" fill="#fff" stroke-linejoin="round"/>
<line x1="608.5" y1="641.2" x2="644.4" y2="662.9" stroke="#161616" stroke-width="4.8" />
<line x1="612.4" y1="638.6" x2="643.2" y2="657.2" stroke="#161616" stroke-width="2.0" />
<line x1="615.6" y1="637.1" x2="643.0" y2="653.6" stroke="#161616" stroke-width="2.0" />
<line x1="620.7" y1="636.4" x2="643.0" y2="649.8" stroke="#161616" stroke-width="1.6" />
<ellipse cx="623.6" cy="633.6" rx="4.6" ry="4.0" stroke="#161616" stroke-width="2.6" fill="#fff" transform="rotate(31 623.6 633.6)" />
<circle cx="623.6" cy="633.6" r="1.6" fill="#111"/>
<path d="M633.8 634.0 L643.7 644.7 L651.1 648.0" stroke="#161616" stroke-width="2.0" fill="none" />
<path d="M630.0 640.4 L642.0 647.6" stroke="#161616" stroke-width="1.8" fill="none" />
<path d="M650.4 647.2 L661.2 654.5 L653.9 666.5 L642.4 660.4 Z" stroke="#161616" stroke-width="2.2" fill="#fff" stroke-linejoin="round"/>
<line x1="643.2" y1="659.1" x2="654.3" y2="665.8" stroke="#161616" stroke-width="3.0" />
<path d="M653.7 649.4 L655.9 650.7 L648.1 663.6 L646.0 662.3 Z" stroke="#161616" stroke-width="0.5" fill="#111" stroke-linejoin="round"/>
<path d="M661.1 654.7 L663.0 660.3 L659.3 666.3 L654.0 666.3 Z" stroke="#161616" stroke-width="2.0" fill="#222" stroke-linejoin="round"/>
<path d="M659.6 660.0 L659.8 663.6 L656.6 664.0 Z" stroke="#161616" stroke-width="0.5" fill="#fff" />
<ellipse cx="481" cy="388" rx="26" ry="35.5" stroke="#262626" stroke-width="1.3" fill="#fff" transform="rotate(18 481 388)" />
<ellipse cx="485.5" cy="389.3" rx="22.5" ry="31" stroke="#262626" stroke-width="1.2" fill="#fff" transform="rotate(18 485.5 389.3)" />
<path d="M474.5 355 l0.8 3 l2.6 -0.6 l-0.4 -1.6 l3.6 -1 l0.4 1.6 l2.6 -0.8 l-0.8 -3" stroke="#262626" stroke-width="1.1" fill="#fff" />
<ellipse cx="484" cy="389.4" rx="14.6" ry="21.4" stroke="#262626" stroke-width="1.1" fill="#fff" transform="rotate(18 484 389.4)" />
<ellipse cx="485.2" cy="389.8" rx="13.2" ry="19.8" stroke="#262626" stroke-width="3.0" fill="#fff" transform="rotate(18 485.2 389.8)" />
<ellipse cx="486.4" cy="390.2" rx="11.2" ry="17.6" stroke="#262626" stroke-width="1.0" fill="none" transform="rotate(18 486.4 390.2)" />
<path d="M487.2 376.2 L502.5 382 M480.5 406.5 L493 412.2" stroke="#262626" stroke-width="1.2" fill="none" />
<ellipse cx="499.3" cy="396.8" rx="11" ry="15.6" stroke="#262626" stroke-width="1.9" fill="#fff" transform="rotate(18 499.3 396.8)" />
<ellipse cx="499.7" cy="397" rx="8.6" ry="12.8" stroke="#262626" stroke-width="1.3" fill="none" transform="rotate(18 499.7 397)" />
<path d="M459.5 404.5 Q469 421.5 486.5 422.5" stroke="#262626" stroke-width="1.1" fill="none" />
<path d="M522.4 396.3 L539.5 401.6 M516.3 418.4 L531.5 425.8 M522.4 396.3 Q513 402 516.3 418.4" stroke="#262626" stroke-width="1.4" fill="none" />
<path d="M518.5 407 L533 413" stroke="#555" stroke-width="0.8" fill="none" />
<ellipse cx="536.6" cy="412.8" rx="8.3" ry="11.6" stroke="#262626" stroke-width="2.0" fill="#8a8a8a" transform="rotate(18 536.6 412.8)" />
<ellipse cx="536.9" cy="413" rx="5.9" ry="9" stroke="#333" stroke-width="0.8" fill="#c4c4c4" transform="rotate(18 536.9 413)" />
<path d="M532.3 406h7.6 M531.4 408.4h10 M531 410.8h11 M530.9 413.2h11.2 M531.1 415.6h10.8 M531.8 418h9.4 M533.2 420.4h6.4" stroke="#333" stroke-width="0.8" fill="none" />
<path d="M533.5 405.5 L532.8 419.5 M536.2 404.5 L535.6 421 M538.9 405 L538.4 420.5 M541.3 407.5 L541 417.5" stroke="#444" stroke-width="0.6" fill="none" />
<ellipse cx="571.5" cy="435.5" rx="19.5" ry="25.5" stroke="#161616" stroke-width="2.0" fill="#fff" transform="rotate(25 571.5 435.5)" />
<ellipse cx="575" cy="437.5" rx="19.8" ry="25.8" stroke="#161616" stroke-width="1.8" fill="#fff" transform="rotate(25 575 437.5)" />
<ellipse cx="575.2" cy="437.8" rx="16.6" ry="22.6" stroke="#1d1d1d" stroke-width="6.2" fill="none" transform="rotate(25 575.2 437.8)" />
<ellipse cx="575.2" cy="437.8" rx="16.6" ry="22.6" stroke="#fff" stroke-width="4.0" fill="none" transform="rotate(25 575.2 437.8)" stroke-dasharray="3.4 1.7" stroke-linecap="butt"/>
<ellipse cx="580.5" cy="440.5" rx="15.8" ry="21.2" stroke="#161616" stroke-width="2.4" fill="#fff" transform="rotate(25 580.5 440.5)" />
<ellipse cx="582" cy="441.2" rx="13.2" ry="18.2" stroke="#161616" stroke-width="1.6" fill="#fff" transform="rotate(25 582 441.2)" />
<ellipse cx="583.8" cy="442" rx="11.2" ry="15.8" stroke="#161616" stroke-width="1.3" fill="none" transform="rotate(25 583.8 442)" />
<path d="M590.5 428.5 Q596 439 590 455" stroke="#555" stroke-width="1.0" fill="none" />
<path d="M586 450 Q592 447 594.5 441" stroke="#444" stroke-width="1.0" fill="none" />
<ellipse cx="616.5" cy="465" rx="23.5" ry="30.4" stroke="#161616" stroke-width="1.5" fill="#fff" transform="rotate(28 616.5 465)" />
<ellipse cx="620.5" cy="464" rx="21.5" ry="29.6" stroke="#161616" stroke-width="1.4" fill="#fff" transform="rotate(28 620.5 464)" />
<ellipse cx="620.7" cy="464.1" rx="20.3" ry="28.3" stroke="#161616" stroke-width="1.0" fill="none" transform="rotate(28 620.7 464.1)" />
<ellipse cx="620.9" cy="464.3" rx="19.0" ry="27.0" stroke="#161616" stroke-width="1.2" fill="none" transform="rotate(28 620.9 464.3)" />
<ellipse cx="621.2" cy="464.7" rx="16.5" ry="25" stroke="#161616" stroke-width="1.4" fill="none" transform="rotate(28 621.2 464.7)" />
<path d="M592.5 470.5 L597.5 474" stroke="#161616" stroke-width="1.2" fill="none" />
<path d="M634 447.5 Q638.5 459 629.5 476.5 Q623 485 613 486.5" stroke="#444" stroke-width="1.0" fill="none" />
<path d="M635.2 451.5 L638.8 456 M634.5 456.5 L639.2 461.5" stroke="#444" stroke-width="0.9" fill="none" />
<line x1="521" y1="466" x2="553.5" y2="452.5" stroke="#161616" stroke-width="0.9" />
<line x1="521" y1="466" x2="591" y2="474.5" stroke="#161616" stroke-width="0.9" />
<line x1="618.7" y1="454.5" x2="710" y2="508.5" stroke="#161616" stroke-width="0.9" />
<path d="M160.5 618 L168 608.5 L179 606.5 L191 612 L195.5 622 L193.5 634.5 L186 641.5 L175 641 L165.5 635 L160.5 626 Z" stroke="#333" stroke-width="1.3" fill="#fff" stroke-linejoin="round"/>
<path d="M168 608.5 L172.5 617 L171.5 633 L175 641 M160.5 618 L163.5 620 L163.5 631 L165.5 635 M172.5 617 L179 606.5" stroke="#333" stroke-width="1.0" fill="none" />
<ellipse cx="183.6" cy="627" rx="8.2" ry="10.2" stroke="#333" stroke-width="1.3" fill="#fff" transform="rotate(15 183.6 627)" />
<ellipse cx="184.6" cy="627.5" rx="6" ry="8" stroke="#555" stroke-width="1.1" fill="none" transform="rotate(15 184.6 627.5)" />
<path d="M213.5 650 L220 640 L230 637 L241 641.5 L245.5 651 L243.5 662 L236.5 669.5 L225.5 670 L217 664 L213.5 656 Z" stroke="#161616" stroke-width="2.4" fill="#fff" stroke-linejoin="round"/>
<path d="M220 640 L226.5 648 L225 664 L225.5 670 M213.5 650 L217.5 653 L217 664 M226.5 648 L236 644" stroke="#161616" stroke-width="1.8" fill="none" />
<ellipse cx="234.5" cy="657" rx="7.2" ry="9.4" stroke="#161616" stroke-width="3.6" fill="#fff" transform="rotate(15 234.5 657)" />
<ellipse cx="235" cy="657.5" rx="3.8" ry="5.4" stroke="#161616" stroke-width="2.4" fill="#222" transform="rotate(15 235 657.5)" />
<path d="M229 647 L241 645 M230 668 l8 -3" stroke="#161616" stroke-width="1.6" fill="none" />
<path d="M331 728 Q333 705 345 692 Q357 680.5 372 678.5 Q381 677.5 385 683 L392 690 L402 697" stroke="#161616" stroke-width="2.0" fill="none" />
<path d="M345.5 727 Q348 709 358.5 698 Q368 688.5 379 686.5" stroke="#161616" stroke-width="1.5" fill="none" />
<path d="M419.5 616 Q404 634 401.5 662 Q400 685 406 702 Q414 720 422.5 741" stroke="#161616" stroke-width="1.8" fill="none" />
<path d="M417 617.5 Q406 640 405 664 Q405 688 411.5 704 Q419 722 424 748" stroke="#161616" stroke-width="1.3" fill="none" />
<path d="M430.5 620.5 Q437 640 436.5 662 Q436 690 430 712 Q427 728 426 748" stroke="#161616" stroke-width="1.4" fill="none" />
<path d="M357.5 727.5 Q344 727 331 728.5 Q305 733 289 748 Q275 762 275.5 779 Q278 797 296 810 Q318 824 350 829.5 Q368 830.5 383 826.5 Q399 820 415 806.5" stroke="#161616" stroke-width="1.8" fill="none" />
<path d="M300 812 Q325 826 352 831 M383 827.5 Q400 821 410 812" stroke="#161616" stroke-width="1.6" fill="none" />
<path d="M360 730 Q369 741 376 757 Q384 776 396 791 Q406 801 414 806" stroke="#161616" stroke-width="1.7" fill="none" />
<path d="M331 786.5 Q350 789.5 372.5 786.5" stroke="#161616" stroke-width="1.3" fill="none" />
<path d="M383 828.5 Q395 834 408 833.5 Q424 831 436.5 820" stroke="#161616" stroke-width="1.3" fill="none" />
<path d="M428.5 714.5 L445 727 L470 742.5" stroke="#161616" stroke-width="3.2" fill="none" />
<path d="M414 807 L420 812 L428 818" stroke="#161616" stroke-width="2.6" fill="none" />
<ellipse cx="450.5" cy="780" rx="31.5" ry="43.5" stroke="#161616" stroke-width="1.8" fill="#fff" transform="rotate(17 450.5 780)" />
<ellipse cx="452.5" cy="780.5" rx="29" ry="41" stroke="#161616" stroke-width="1.2" fill="none" transform="rotate(17 452.5 780.5)" />
<ellipse cx="457.5" cy="781.5" rx="25" ry="36.5" stroke="#161616" stroke-width="2.0" fill="#fff" transform="rotate(17 457.5 781.5)" />
<path d="M455.5 753.5 Q468 746.5 477.5 755 Q483.5 764 478.5 779 L473.5 775.5 Q471 765 464 759.5 Z" stroke="#161616" stroke-width="1" fill="#151515" />
<path d="M441 808 Q446 815 456 817 L452 810 Z" stroke="#161616" stroke-width="1" fill="#151515" />
<path d="M450 757 Q438 770 437.5 790 Q438.5 803 446 811" stroke="#161616" stroke-width="1.5" fill="none" />
<path d="M447 771 Q442 781 445 789 L452 782 Z" stroke="#161616" stroke-width="1.2" fill="#fff" />
<path d="M445 770 Q454 762 459 752" stroke="#161616" stroke-width="1.2" fill="none" />
<path d="M909.5 308 L909.8 345 Q914 348.6 918.2 345 L918.2 308" stroke="#333" stroke-width="1.2" fill="#fff" />
<path d="M909.7 331.5 Q914 334 918.2 331.5" stroke="#333" stroke-width="1.0" fill="none" />
<line x1="916.6" y1="333" x2="916.6" y2="345" stroke="#888" stroke-width="1.2" />
<path d="M906.4 301.5 L906 306.8 Q908.5 310.3 913.8 310.6 Q919.2 310.3 921.6 306.8 L921.3 301.5" stroke="#333" stroke-width="1.5" fill="#fff" />
<path d="M906.2 305 Q909 308.5 913.8 308.8 Q918.8 308.5 921.4 305" stroke="#333" stroke-width="1.0" fill="none" />
<ellipse cx="913.8" cy="301.6" rx="7.3" ry="4.4" stroke="#333" stroke-width="1.4" fill="#fff" />
<path d="M909.8 305.2 L909.8 309.6 M917.8 305.2 L917.8 309.6" stroke="#333" stroke-width="0.9" fill="none" />
<path d="M917.6 602.5 L917.6 627 L926.9 627 L926.9 602.5" stroke="#333" stroke-width="1.2" fill="#fff" />
<ellipse cx="922.2" cy="602.5" rx="4.65" ry="2.3" stroke="#333" stroke-width="1.2" fill="#fff" />
<line x1="924.8" y1="604" x2="924.8" y2="626" stroke="#888" stroke-width="0.8" />
<ellipse cx="921.5" cy="629" rx="9.4" ry="4.4" stroke="#333" stroke-width="1.2" fill="#fff" />
<path d="M917.6 626.5 Q922 628.6 926.9 626.5" stroke="#333" stroke-width="1" fill="none" />
<path d="M913.8 632 L914.5 637 L919 639.5 L925 639.5 L929 637 L929.3 632" stroke="#333" stroke-width="1.2" fill="none" />
<line x1="919" y1="634" x2="919" y2="639.5" stroke="#333" stroke-width="0.9" />
<line x1="925" y1="634" x2="925" y2="639.5" stroke="#333" stroke-width="0.9" />
<g transform="translate(181.83 82.03) rotate(16.12)">
<path d="M-8.6 -17 L-11.6 -64.82 L11.6 -64.82 L8.6 -17 Z" fill="#fff" stroke="#161616" stroke-width="1"/>
<path d="M-8.6 -17 Q0 -23.5 8.6 -17 Q8.2 -12.5 4.2 -8 L-4.2 -8 Q-8.2 -12.5 -8.6 -17 Z" fill="#fff" stroke="#161616" stroke-width="1"/>
<rect x="-4.1" y="-8" width="8.2" height="7.2" fill="#6a6a6a" stroke="#2a2a2a" stroke-width="1"/>
<path d="M-2.6 -8V-1 M-0.9 -8V-1 M0.9 -8V-1 M2.6 -8V-1" stroke="#333" stroke-width="0.7"/>
<ellipse cx="0" cy="-0.9" rx="4" ry="1.9" fill="#e8e8e8" stroke="#2a2a2a" stroke-width="1"/>
<rect x="-12" y="-70.82" width="24" height="6" fill="#fff" stroke="#3a3a3a" stroke-width="1"/>
<path d="M-9.3 -70.82v6 M-6.7 -70.82v6 M-4.0 -70.82v6 M-1.3 -70.82v6 M1.3 -70.82v6 M4.0 -70.82v6 M6.7 -70.82v6 M9.4 -70.82v6 " stroke="#4a4a4a" stroke-width="1.0"/>
</g>
<text transform="translate(192 49.123) scale(0.82 1)" text-anchor="middle" font-size="18.5" font-weight="bold" fill="#17171d" stroke="#17171d" stroke-width="0.45" stroke-linejoin="round">7</text>
<g transform="translate(236.20 192.84) rotate(47.52)">
<path d="M-8.6 -17 L-11.6 -65.86 L11.6 -65.86 L8.6 -17 Z" fill="#fff" stroke="#161616" stroke-width="1"/>
<path d="M-8.6 -17 Q0 -23.5 8.6 -17 Q8.2 -12.5 4.2 -8 L-4.2 -8 Q-8.2 -12.5 -8.6 -17 Z" fill="#fff" stroke="#161616" stroke-width="1"/>
<rect x="-4.1" y="-8" width="8.2" height="7.2" fill="#6a6a6a" stroke="#2a2a2a" stroke-width="1"/>
<path d="M-2.6 -8V-1 M-0.9 -8V-1 M0.9 -8V-1 M2.6 -8V-1" stroke="#333" stroke-width="0.7"/>
<ellipse cx="0" cy="-0.9" rx="4" ry="1.9" fill="#e8e8e8" stroke="#2a2a2a" stroke-width="1"/>
<rect x="-12" y="-71.86" width="24" height="6" fill="#fff" stroke="#3a3a3a" stroke-width="1"/>
<path d="M-9.3 -71.86v6 M-6.7 -71.86v6 M-4.0 -71.86v6 M-1.3 -71.86v6 M1.3 -71.86v6 M4.0 -71.86v6 M6.7 -71.86v6 M9.4 -71.86v6 " stroke="#4a4a4a" stroke-width="1.0"/>
</g>
<text transform="translate(266 171.623) scale(0.82 1)" text-anchor="middle" font-size="18.5" font-weight="bold" fill="#17171d" stroke="#17171d" stroke-width="0.45" stroke-linejoin="round">95</text>
<g transform="translate(335.06 370.50) rotate(44.41)">
<path d="M-8.6 -17 L-11.6 -67.08 L11.6 -67.08 L8.6 -17 Z" fill="#fff" stroke="#161616" stroke-width="1"/>
<path d="M-8.6 -17 Q0 -23.5 8.6 -17 Q8.2 -12.5 4.2 -8 L-4.2 -8 Q-8.2 -12.5 -8.6 -17 Z" fill="#fff" stroke="#161616" stroke-width="1"/>
<rect x="-4.1" y="-8" width="8.2" height="7.2" fill="#6a6a6a" stroke="#2a2a2a" stroke-width="1"/>
<path d="M-2.6 -8V-1 M-0.9 -8V-1 M0.9 -8V-1 M2.6 -8V-1" stroke="#333" stroke-width="0.7"/>
<ellipse cx="0" cy="-0.9" rx="4" ry="1.9" fill="#e8e8e8" stroke="#2a2a2a" stroke-width="1"/>
<rect x="-12" y="-73.08" width="24" height="6" fill="#fff" stroke="#3a3a3a" stroke-width="1"/>
<path d="M-9.3 -73.08v6 M-6.7 -73.08v6 M-4.0 -73.08v6 M-1.3 -73.08v6 M1.3 -73.08v6 M4.0 -73.08v6 M6.7 -73.08v6 M9.4 -73.08v6 " stroke="#4a4a4a" stroke-width="1.0"/>
</g>
<text transform="translate(368 344.123) scale(0.82 1)" text-anchor="middle" font-size="18.5" font-weight="bold" fill="#17171d" stroke="#17171d" stroke-width="0.45" stroke-linejoin="round">95</text>
<g transform="translate(452.69 323.55) rotate(15.32)">
<path d="M-8.6 -17 L-11.6 -64.04 L11.6 -64.04 L8.6 -17 Z" fill="#fff" stroke="#161616" stroke-width="1"/>
<path d="M-8.6 -17 Q0 -23.5 8.6 -17 Q8.2 -12.5 4.2 -8 L-4.2 -8 Q-8.2 -12.5 -8.6 -17 Z" fill="#fff" stroke="#161616" stroke-width="1"/>
<rect x="-4.1" y="-8" width="8.2" height="7.2" fill="#6a6a6a" stroke="#2a2a2a" stroke-width="1"/>
<path d="M-2.6 -8V-1 M-0.9 -8V-1 M0.9 -8V-1 M2.6 -8V-1" stroke="#333" stroke-width="0.7"/>
<ellipse cx="0" cy="-0.9" rx="4" ry="1.9" fill="#e8e8e8" stroke="#2a2a2a" stroke-width="1"/>
<rect x="-12" y="-70.04" width="24" height="6" fill="#fff" stroke="#3a3a3a" stroke-width="1"/>
<path d="M-9.3 -70.04v6 M-6.7 -70.04v6 M-4.0 -70.04v6 M-1.3 -70.04v6 M1.3 -70.04v6 M4.0 -70.04v6 M6.7 -70.04v6 M9.4 -70.04v6 " stroke="#4a4a4a" stroke-width="1.0"/>
</g>
<text transform="translate(463 287.623) scale(0.82 1)" text-anchor="middle" font-size="18.5" font-weight="bold" fill="#17171d" stroke="#17171d" stroke-width="0.45" stroke-linejoin="round">95</text>
<g transform="translate(190.15 421.85) rotate(-171.13)">
<path d="M-8.6 -17 L-11.6 -65.00 L11.6 -65.00 L8.6 -17 Z" fill="#fff" stroke="#161616" stroke-width="1"/>
<path d="M-8.6 -17 Q0 -23.5 8.6 -17 Q8.2 -12.5 4.2 -8 L-4.2 -8 Q-8.2 -12.5 -8.6 -17 Z" fill="#fff" stroke="#161616" stroke-width="1"/>
<rect x="-4.1" y="-8" width="8.2" height="7.2" fill="#6a6a6a" stroke="#2a2a2a" stroke-width="1"/>
<path d="M-2.6 -8V-1 M-0.9 -8V-1 M0.9 -8V-1 M2.6 -8V-1" stroke="#333" stroke-width="0.7"/>
<ellipse cx="0" cy="-0.9" rx="4" ry="1.9" fill="#e8e8e8" stroke="#2a2a2a" stroke-width="1"/>
<rect x="-12" y="-71.00" width="24" height="6" fill="#fff" stroke="#3a3a3a" stroke-width="1"/>
<path d="M-9.3 -71.00v6 M-6.7 -71.00v6 M-4.0 -71.00v6 M-1.3 -71.00v6 M1.3 -71.00v6 M4.0 -71.00v6 M6.7 -71.00v6 M9.4 -71.00v6 " stroke="#4a4a4a" stroke-width="1.0"/>
</g>
<text transform="translate(182 484.123) scale(0.82 1)" text-anchor="middle" font-size="18.5" font-weight="bold" fill="#17171d" stroke="#17171d" stroke-width="0.45" stroke-linejoin="round">87</text>
<g transform="translate(520.77 469.86) rotate(-63.74)">
<path d="M-8.6 -17 L-11.6 -66.00 L11.6 -66.00 L8.6 -17 Z" fill="#fff" stroke="#161616" stroke-width="1"/>
<path d="M-8.6 -17 Q0 -23.5 8.6 -17 Q8.2 -12.5 4.2 -8 L-4.2 -8 Q-8.2 -12.5 -8.6 -17 Z" fill="#fff" stroke="#161616" stroke-width="1"/>
<rect x="-4.1" y="-8" width="8.2" height="7.2" fill="#6a6a6a" stroke="#2a2a2a" stroke-width="1"/>
<path d="M-2.6 -8V-1 M-0.9 -8V-1 M0.9 -8V-1 M2.6 -8V-1" stroke="#333" stroke-width="0.7"/>
<ellipse cx="0" cy="-0.9" rx="4" ry="1.9" fill="#e8e8e8" stroke="#2a2a2a" stroke-width="1"/>
<rect x="-12" y="-72.00" width="24" height="6" fill="#fff" stroke="#3a3a3a" stroke-width="1"/>
<path d="M-9.3 -72.00v6 M-6.7 -72.00v6 M-4.0 -72.00v6 M-1.3 -72.00v6 M1.3 -72.00v6 M4.0 -72.00v6 M6.7 -72.00v6 M9.4 -72.00v6 " stroke="#4a4a4a" stroke-width="1.0"/>
</g>
<text transform="translate(477 454.623) scale(0.82 1)" text-anchor="middle" font-size="18.5" font-weight="bold" fill="#17171d" stroke="#17171d" stroke-width="0.45" stroke-linejoin="round">87</text>
<g transform="translate(807.40 287.83) rotate(-16.55)">
<path d="M-8.6 -17 L-11.6 -65.59 L11.6 -65.59 L8.6 -17 Z" fill="#fff" stroke="#161616" stroke-width="1"/>
<path d="M-8.6 -17 Q0 -23.5 8.6 -17 Q8.2 -12.5 4.2 -8 L-4.2 -8 Q-8.2 -12.5 -8.6 -17 Z" fill="#fff" stroke="#161616" stroke-width="1"/>
<rect x="-4.1" y="-8" width="8.2" height="7.2" fill="#6a6a6a" stroke="#2a2a2a" stroke-width="1"/>
<path d="M-2.6 -8V-1 M-0.9 -8V-1 M0.9 -8V-1 M2.6 -8V-1" stroke="#333" stroke-width="0.7"/>
<ellipse cx="0" cy="-0.9" rx="4" ry="1.9" fill="#e8e8e8" stroke="#2a2a2a" stroke-width="1"/>
<rect x="-12" y="-71.59" width="24" height="6" fill="#fff" stroke="#3a3a3a" stroke-width="1"/>
<path d="M-9.3 -71.59v6 M-6.7 -71.59v6 M-4.0 -71.59v6 M-1.3 -71.59v6 M1.3 -71.59v6 M4.0 -71.59v6 M6.7 -71.59v6 M9.4 -71.59v6 " stroke="#4a4a4a" stroke-width="1.0"/>
</g>
<text transform="translate(793 249.123) scale(0.82 1)" text-anchor="middle" font-size="18.5" font-weight="bold" fill="#17171d" stroke="#17171d" stroke-width="0.45" stroke-linejoin="round">87</text>
<g transform="translate(883.62 313.61) rotate(-48.04)">
<path d="M-8.6 -17 L-11.6 -64.90 L11.6 -64.90 L8.6 -17 Z" fill="#fff" stroke="#161616" stroke-width="1"/>
<path d="M-8.6 -17 Q0 -23.5 8.6 -17 Q8.2 -12.5 4.2 -8 L-4.2 -8 Q-8.2 -12.5 -8.6 -17 Z" fill="#fff" stroke="#161616" stroke-width="1"/>
<rect x="-4.1" y="-8" width="8.2" height="7.2" fill="#6a6a6a" stroke="#2a2a2a" stroke-width="1"/>
<path d="M-2.6 -8V-1 M-0.9 -8V-1 M0.9 -8V-1 M2.6 -8V-1" stroke="#333" stroke-width="0.7"/>
<ellipse cx="0" cy="-0.9" rx="4" ry="1.9" fill="#e8e8e8" stroke="#2a2a2a" stroke-width="1"/>
<rect x="-12" y="-70.90" width="24" height="6" fill="#fff" stroke="#3a3a3a" stroke-width="1"/>
<path d="M-9.3 -70.90v6 M-6.7 -70.90v6 M-4.0 -70.90v6 M-1.3 -70.90v6 M1.3 -70.90v6 M4.0 -70.90v6 M6.7 -70.90v6 M9.4 -70.90v6 " stroke="#4a4a4a" stroke-width="1.0"/>
</g>
<text transform="translate(849.2 292.423) scale(0.82 1)" text-anchor="middle" font-size="18.5" font-weight="bold" fill="#17171d" stroke="#17171d" stroke-width="0.45" stroke-linejoin="round">7</text>
<g transform="translate(952.85 571.59) rotate(13.09)">
<path d="M-8.6 -17 L-11.6 -64.42 L11.6 -64.42 L8.6 -17 Z" fill="#fff" stroke="#161616" stroke-width="1"/>
<path d="M-8.6 -17 Q0 -23.5 8.6 -17 Q8.2 -12.5 4.2 -8 L-4.2 -8 Q-8.2 -12.5 -8.6 -17 Z" fill="#fff" stroke="#161616" stroke-width="1"/>
<rect x="-4.1" y="-8" width="8.2" height="7.2" fill="#6a6a6a" stroke="#2a2a2a" stroke-width="1"/>
<path d="M-2.6 -8V-1 M-0.9 -8V-1 M0.9 -8V-1 M2.6 -8V-1" stroke="#333" stroke-width="0.7"/>
<ellipse cx="0" cy="-0.9" rx="4" ry="1.9" fill="#e8e8e8" stroke="#2a2a2a" stroke-width="1"/>
<rect x="-12" y="-70.42" width="24" height="6" fill="#fff" stroke="#3a3a3a" stroke-width="1"/>
<path d="M-9.3 -70.42v6 M-6.7 -70.42v6 M-4.0 -70.42v6 M-1.3 -70.42v6 M1.3 -70.42v6 M4.0 -70.42v6 M6.7 -70.42v6 M9.4 -70.42v6 " stroke="#4a4a4a" stroke-width="1.0"/>
</g>
<text transform="translate(961.2 539.123) scale(0.82 1)" text-anchor="middle" font-size="18.5" font-weight="bold" fill="#17171d" stroke="#17171d" stroke-width="0.45" stroke-linejoin="round">7</text>
<g transform="translate(471.48 590.86) rotate(-170.64)">
<path d="M-8.6 -17 L-11.6 -64.58 L11.6 -64.58 L8.6 -17 Z" fill="#fff" stroke="#161616" stroke-width="1"/>
<path d="M-8.6 -17 Q0 -23.5 8.6 -17 Q8.2 -12.5 4.2 -8 L-4.2 -8 Q-8.2 -12.5 -8.6 -17 Z" fill="#fff" stroke="#161616" stroke-width="1"/>
<rect x="-4.1" y="-8" width="8.2" height="7.2" fill="#6a6a6a" stroke="#2a2a2a" stroke-width="1"/>
<path d="M-2.6 -8V-1 M-0.9 -8V-1 M0.9 -8V-1 M2.6 -8V-1" stroke="#333" stroke-width="0.7"/>
<ellipse cx="0" cy="-0.9" rx="4" ry="1.9" fill="#e8e8e8" stroke="#2a2a2a" stroke-width="1"/>
<rect x="-12" y="-70.58" width="24" height="6" fill="#fff" stroke="#3a3a3a" stroke-width="1"/>
<path d="M-9.3 -70.58v6 M-6.7 -70.58v6 M-4.0 -70.58v6 M-1.3 -70.58v6 M1.3 -70.58v6 M4.0 -70.58v6 M6.7 -70.58v6 M9.4 -70.58v6 " stroke="#4a4a4a" stroke-width="1.0"/>
</g>
<text transform="translate(463.8 648.623) scale(0.82 1)" text-anchor="middle" font-size="18.5" font-weight="bold" fill="#17171d" stroke="#17171d" stroke-width="0.45" stroke-linejoin="round">94</text>
<line x1="190" y1="421" x2="207.5" y2="386" stroke="#161616" stroke-width="0.9" />
<line x1="451" y1="325" x2="436" y2="351" stroke="#161616" stroke-width="0.9" />
<line x1="472" y1="589.5" x2="482.5" y2="565.5" stroke="#161616" stroke-width="0.9" />
<line x1="806.3" y1="289" x2="823.8" y2="350" stroke="#161616" stroke-width="0.9" />
<line x1="886" y1="315.5" x2="910" y2="336.3" stroke="#161616" stroke-width="0.9" />
<line x1="951.5" y1="572.5" x2="927.5" y2="601.5" stroke="#161616" stroke-width="0.9" />
<line x1="101" y1="341" x2="98.3" y2="366" stroke="#161616" stroke-width="0.9" />
<text transform="translate(98 384.876) scale(0.83 1)" text-anchor="middle" font-size="22" font-weight="bold" fill="#17171d" stroke="#17171d" stroke-width="0.45" stroke-linejoin="round">21</text>
<line x1="164" y1="299" x2="150" y2="315" stroke="#161616" stroke-width="0.9" />
<text transform="translate(181 295.376) scale(0.83 1)" text-anchor="middle" font-size="22" font-weight="bold" fill="#17171d" stroke="#17171d" stroke-width="0.45" stroke-linejoin="round">16</text>
<line x1="196" y1="314" x2="182.5" y2="335.5" stroke="#161616" stroke-width="0.9" />
<text transform="translate(206 311.876) scale(0.83 1)" text-anchor="middle" font-size="22" font-weight="bold" fill="#17171d" stroke="#17171d" stroke-width="0.45" stroke-linejoin="round">15</text>
<line x1="164" y1="397.5" x2="190" y2="379.5" stroke="#161616" stroke-width="0.9" />
<text transform="translate(149 417.376) scale(0.83 1)" text-anchor="middle" font-size="22" font-weight="bold" fill="#17171d" stroke="#17171d" stroke-width="0.45" stroke-linejoin="round">14</text>
<line x1="234" y1="455.5" x2="229" y2="429" stroke="#161616" stroke-width="0.9" />
<text transform="translate(237 480.876) scale(0.83 1)" text-anchor="middle" font-size="22" font-weight="bold" fill="#17171d" stroke="#17171d" stroke-width="0.45" stroke-linejoin="round">13</text>
<line x1="299" y1="330" x2="291" y2="304.5" stroke="#161616" stroke-width="0.9" />
<text transform="translate(305 352.876) scale(0.83 1)" text-anchor="middle" font-size="22" font-weight="bold" fill="#17171d" stroke="#17171d" stroke-width="0.45" stroke-linejoin="round">8</text>
<line x1="308.7" y1="235" x2="282.5" y2="251.7" stroke="#161616" stroke-width="0.9" />
<text transform="translate(323.7 232.876) scale(0.83 1)" text-anchor="middle" font-size="22" font-weight="bold" fill="#17171d" stroke="#17171d" stroke-width="0.45" stroke-linejoin="round">9</text>
<line x1="378.7" y1="267" x2="353.7" y2="282.5" stroke="#161616" stroke-width="0.9" />
<text transform="translate(391.7 270.376) scale(0.83 1)" text-anchor="middle" font-size="22" font-weight="bold" fill="#17171d" stroke="#17171d" stroke-width="0.45" stroke-linejoin="round">7</text>
<line x1="413.7" y1="381" x2="420" y2="356" stroke="#161616" stroke-width="0.9" />
<text transform="translate(411 409.876) scale(0.83 1)" text-anchor="middle" font-size="22" font-weight="bold" fill="#17171d" stroke="#17171d" stroke-width="0.45" stroke-linejoin="round">6</text>
<line x1="503.7" y1="327.5" x2="490" y2="352.5" stroke="#161616" stroke-width="0.9" />
<text transform="translate(514 320.376) scale(0.83 1)" text-anchor="middle" font-size="22" font-weight="bold" fill="#17171d" stroke="#17171d" stroke-width="0.45" stroke-linejoin="round">4</text>
<line x1="533.7" y1="372.5" x2="533.7" y2="402.5" stroke="#161616" stroke-width="0.9" />
<text transform="translate(533 360.376) scale(0.83 1)" text-anchor="middle" font-size="22" font-weight="bold" fill="#17171d" stroke="#17171d" stroke-width="0.45" stroke-linejoin="round">5</text>
<line x1="573.7" y1="381" x2="577" y2="412.5" stroke="#161616" stroke-width="0.9" />
<text transform="translate(572 373.876) scale(0.83 1)" text-anchor="middle" font-size="22" font-weight="bold" fill="#17171d" stroke="#17171d" stroke-width="0.45" stroke-linejoin="round">2</text>
<line x1="635" y1="515" x2="626" y2="492.5" stroke="#161616" stroke-width="0.9" />
<text transform="translate(644.5 544.876) scale(0.83 1)" text-anchor="middle" font-size="22" font-weight="bold" fill="#17171d" stroke="#17171d" stroke-width="0.45" stroke-linejoin="round">3</text>
<line x1="461" y1="500.5" x2="432.5" y2="497" stroke="#161616" stroke-width="0.9" />
<text transform="translate(480.6 512.876) scale(0.83 1)" text-anchor="middle" font-size="22" font-weight="bold" fill="#17171d" stroke="#17171d" stroke-width="0.45" stroke-linejoin="round">11</text>
<line x1="332.5" y1="514" x2="325" y2="489.5" stroke="#161616" stroke-width="0.9" />
<text transform="translate(343 537.376) scale(0.83 1)" text-anchor="middle" font-size="22" font-weight="bold" fill="#17171d" stroke="#17171d" stroke-width="0.45" stroke-linejoin="round">12</text>
<line x1="607" y1="683.7" x2="604" y2="646" stroke="#161616" stroke-width="0.9" />
<text transform="translate(607 710.876) scale(0.83 1)" text-anchor="middle" font-size="22" font-weight="bold" fill="#17171d" stroke="#17171d" stroke-width="0.45" stroke-linejoin="round">10</text>
<line x1="741.2" y1="285" x2="748.7" y2="300" stroke="#161616" stroke-width="0.9" />
<text transform="translate(737 270.376) scale(0.83 1)" text-anchor="middle" font-size="22" font-weight="bold" fill="#17171d" stroke="#17171d" stroke-width="0.45" stroke-linejoin="round">1</text>
<line x1="915" y1="278.7" x2="913.2" y2="296.2" stroke="#161616" stroke-width="0.9" />
<text transform="translate(918.7 263.376) scale(0.83 1)" text-anchor="middle" font-size="22" font-weight="bold" fill="#17171d" stroke="#17171d" stroke-width="0.45" stroke-linejoin="round">17</text>
<line x1="940" y1="653" x2="927.5" y2="639.2" stroke="#161616" stroke-width="0.9" />
<text transform="translate(958 672.376) scale(0.83 1)" text-anchor="middle" font-size="22" font-weight="bold" fill="#17171d" stroke="#17171d" stroke-width="0.45" stroke-linejoin="round">18</text>
<line x1="383.7" y1="866" x2="383.7" y2="827.5" stroke="#161616" stroke-width="0.9" />
<text transform="translate(386 897.376) scale(0.83 1)" text-anchor="middle" font-size="22" font-weight="bold" fill="#17171d" stroke="#17171d" stroke-width="0.45" stroke-linejoin="round">19</text>
<line x1="169.5" y1="675.4" x2="169.5" y2="640.7" stroke="#161616" stroke-width="0.9" />
<text transform="translate(171.4 704.476) scale(0.83 1)" text-anchor="middle" font-size="22" font-weight="bold" fill="#17171d" stroke="#17171d" stroke-width="0.45" stroke-linejoin="round">20</text>
<line x1="222.5" y1="700.4" x2="222.5" y2="669.6" stroke="#161616" stroke-width="0.9" />
<text transform="translate(227.7 729.476) scale(0.83 1)" text-anchor="middle" font-size="22" font-weight="bold" fill="#17171d" stroke="#17171d" stroke-width="0.45" stroke-linejoin="round">22</text>
</svg>
</body></html>
